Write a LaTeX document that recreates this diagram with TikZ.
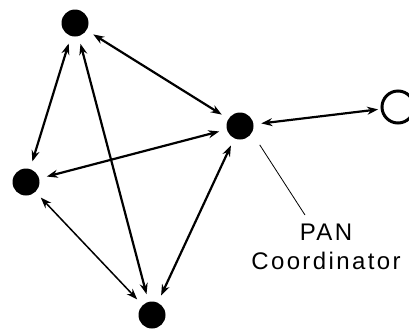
\documentclass[tikz,border=0pt]{standalone}
\usepackage{fontspec}
\setmainfont{Liberation Sans}
\usetikzlibrary{arrows.meta}

\begin{document}
\begin{tikzpicture}[
    x=1pt, y=-1pt,
    device/.style={circle, fill=black, minimum size=27pt, inner sep=0pt, outer sep=8pt},
    remote/.style={circle, draw=black, line width=3pt, minimum size=32pt, inner sep=0pt, outer sep=4pt},
    link/.style={<->, line width=2.2pt, >={Stealth[length=11pt, width=8pt]}},
    thinlink/.style={link, line width=1.5pt},
    pointer/.style={line width=0.8pt},
    annot/.style={font=\fontsize{24}{29}\selectfont\addfontfeatures{LetterSpace=10},
                  align=center, inner sep=0pt, anchor=north},
]

% ---- 画布 ----
\useasboundingbox (0,0) rectangle (409,333);
\clip (0,0) rectangle (409,333);

% ---- 节点 ----
\node[device] (top)    at (75,23)   {};
\node[device] (left)   at (26,182)  {};
\node[device] (coord)  at (240,126) {};
\node[device] (bottom) at (152,315) {};
\node[remote] (ext)    at (398,107) {};

% ---- 链路 ----
\draw[link] (top)   -- (left);
\draw[link] (top)   -- (bottom);
\draw[link] (top)   -- (coord);
\draw[link] (left)  -- (coord);
\draw[thinlink] (left) -- (bottom);
\draw[link] (coord) -- (bottom);
\draw[link] (coord) -- (ext);

% ===== 标注 =====
\node[annot] (lbl) at (326,224) {PAN\\Coordinator};
\coordinate (lead) at (305,215);
\draw[pointer, shorten <=6pt] (coord.-40) -- (lead);

\end{tikzpicture}
\end{document}
